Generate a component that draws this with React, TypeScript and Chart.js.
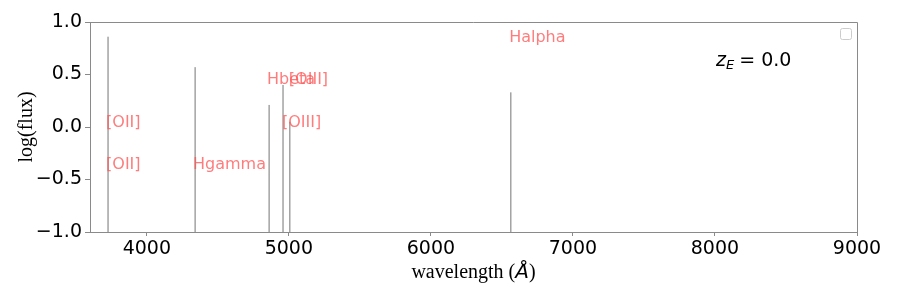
import React, { useEffect, useRef } from "react";
import { Chart, registerables } from "chart.js";
Chart.register(...registerables);

// Emission lines (rest wavelength in Angstrom) and peak log(flux)
const lineWaves = [3727, 4340, 4861, 4959, 5007, 6563];
const linePeaks = [0.86, 0.57, 0.21, 0.4, 0.05, 0.33];

// Line-name annotations
const labelTexts = ["[OII]", "[OII]", "Hgamma", "Hbeta", "[OIII]", "[OIII]", "Halpha"];
const labelWaves = [3713, 3713, 4325, 4846, 5000, 4951, 6551];
const labelLogFlux = [0.05, -0.35, -0.35, 0.46, 0.46, 0.05, 0.86];

const xTicks = [4000, 5000, 6000, 7000, 8000, 9000];
const yTicks = [-1, -0.5, 0, 0.5, 1];
const xRange = [3600, 9000];
const yRange = [-1, 1];
const redshiftText = "0.0";

const GRAY = "#8a8a8a";
const LABEL_RED = "rgba(255,80,80,0.75)";

export default function App() {
  const ref = useRef<HTMLCanvasElement | null>(null);

  useEffect(() => {
    document.body.style.margin = "0";
    const canvas = ref.current!;
    const spectrum: { x: number; y: number | null }[] = [];
    lineWaves.forEach((w, i) => {
      spectrum.push({ x: w, y: yRange[0] - 1 });
      spectrum.push({ x: w, y: linePeaks[i] });
      spectrum.push({ x: w, y: null });
    });

    const overlay = {
      id: "overlay",
      afterDraw(chart: any) {
        const ctx = chart.ctx as CanvasRenderingContext2D;
        const { left, right, top, bottom } = chart.chartArea;
        const xs = chart.scales.x;
        const ys = chart.scales.y;
        ctx.save();
        // top & right spines
        ctx.strokeStyle = GRAY;
        ctx.lineWidth = 1;
        ctx.beginPath();
        ctx.moveTo(left, top + 0.5);
        ctx.lineTo(right + 0.5, top + 0.5);
        ctx.lineTo(right + 0.5, bottom);
        ctx.stroke();

        // annotations
        ctx.fillStyle = LABEL_RED;
        ctx.font = "16px 'DejaVu Sans'";
        ctx.textAlign = "left";
        ctx.textBaseline = "alphabetic";
        labelTexts.forEach((t, i) => {
          const px = xs.getPixelForValue(labelWaves[i]);
          const py = ys.getPixelForValue(labelLogFlux[i]);
          ctx.fillText(t, px, py + 5.5);
        });

        // z_E = 0.0
        ctx.fillStyle = "#000";
        let zx = 716;
        const zb = 66;
        ctx.font = "italic 19px 'DejaVu Sans'";
        ctx.fillText("z", zx, zb);
        zx += ctx.measureText("z").width;
        ctx.font = "italic 13px 'DejaVu Sans'";
        ctx.fillText("E", zx, zb + 3);
        zx += ctx.measureText("E").width;
        ctx.font = "19px 'DejaVu Sans'";
        ctx.fillText(" = " + redshiftText, zx - 1, zb);

        // empty legend frame
        ctx.strokeStyle = "#cccccc";
        ctx.fillStyle = "rgba(255,255,255,0.8)";
        ctx.beginPath();
        (ctx as any).roundRect(840.5, 28.5, 11, 11, 2);
        ctx.fill();
        ctx.stroke();

        // axis titles
        ctx.fillStyle = "#000";
        const p1 = "wavelength (";
        const p3 = ")";
        ctx.font = "20px 'Liberation Serif'";
        const w1 = ctx.measureText(p1).width;
        const w3 = ctx.measureText(p3).width;
        ctx.font = "italic 20px 'DejaVu Sans'";
        const w2 = ctx.measureText("Å").width;
        const total = w1 + w2 + w3;
        let tx = (left + right) / 2 - total / 2;
        const tb = 278;
        ctx.font = "20px 'Liberation Serif'";
        ctx.fillText(p1, tx, tb);
        tx += w1;
        ctx.font = "italic 20px 'DejaVu Sans'";
        ctx.fillText("Å", tx, tb);
        tx += w2;
        ctx.font = "20px 'Liberation Serif'";
        ctx.fillText(p3, tx, tb);

        ctx.translate(32, (top + bottom) / 2);
        ctx.rotate(-Math.PI / 2);
        ctx.textAlign = "center";
        ctx.fillText("log(flux)", 0, 0);
        ctx.restore();
      },
    };

    const chart = new Chart(canvas, {
      type: "line",
      data: {
        datasets: [
          {
            data: spectrum as any,
            borderColor: "rgba(0,0,0,0.55)",
            borderWidth: 1,
            pointRadius: 0,
            spanGaps: false,
            tension: 0,
          },
        ],
      },
      options: {
        animation: false,
        responsive: false,
        devicePixelRatio: 1,
        parsing: false as any,
        layout: { padding: { top: 22, right: 40, left: 0, bottom: 0 } },
        plugins: { legend: { display: false }, tooltip: { enabled: false } },
        scales: {
          x: {
            type: "linear",
            min: xRange[0],
            max: xRange[1],
            afterBuildTicks: (s: any) => {
              s.ticks = xTicks.map((v) => ({ value: v }));
            },
            afterFit: (s: any) => {
              s.height = 67;
            },
            ticks: {
              font: { family: "DejaVu Sans", size: 19 },
              color: "#000",
              padding: 2,
              maxRotation: 0,
              autoSkip: false,
              callback: (v: any) => String(v),
            },
            grid: { display: true, drawOnChartArea: false, drawTicks: true, tickLength: 4, color: GRAY },
            border: { display: true, color: GRAY },
          },
          y: {
            type: "linear",
            min: yRange[0],
            max: yRange[1],
            afterBuildTicks: (s: any) => {
              s.ticks = yTicks.map((v) => ({ value: v }));
            },
            afterFit: (s: any) => {
              s.width = 90;
            },
            ticks: {
              font: { family: "DejaVu Sans", size: 19 },
              color: "#000",
              padding: 3,
              autoSkip: false,
              callback: (v: any) => (Number(v) < 0 ? "\u2212" : "") + Math.abs(Number(v)).toFixed(1),
            },
            grid: { display: true, drawOnChartArea: false, drawTicks: true, tickLength: 5, color: GRAY },
            border: { display: true, color: GRAY },
          },
        },
      },
      plugins: [overlay],
    });
    return () => chart.destroy();
  }, []);

  return <canvas ref={ref} width={897} height={299} style={{ display: "block" }} />;
}
